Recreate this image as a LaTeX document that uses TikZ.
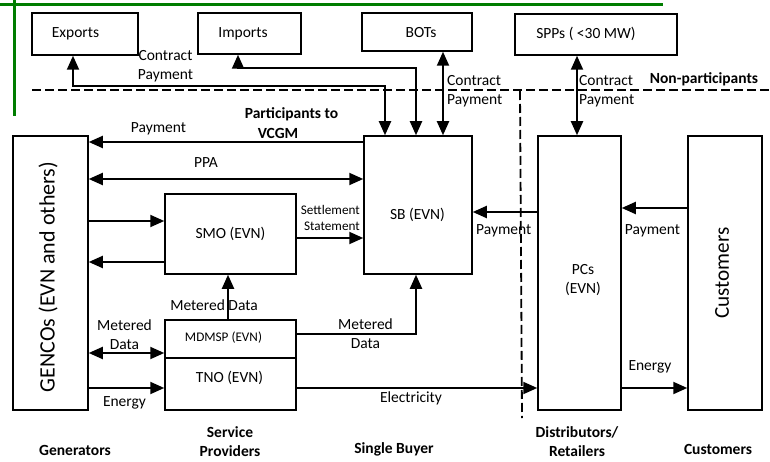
\documentclass[tikz,border=0pt]{standalone}
\usepackage{fontspec}
\setmainfont{Carlito}
\usetikzlibrary{arrows.meta,calc}
\definecolor{grn}{RGB}{0,125,0}
\begin{document}
\begin{tikzpicture}[x=1pt,y=-1pt,
  box/.style={draw,line width=1.5pt,inner sep=0pt},
  arr/.style={line width=2pt,-{Triangle[length=14pt,width=12pt]}},
  dbl/.style={line width=2pt,{Triangle[length=14pt,width=12pt]}-{Triangle[length=14pt,width=12pt]}},
  txt/.style={font=\fontsize{15.5}{19}\selectfont,inner sep=0pt,align=center},
  sml/.style={font=\fontsize{13.2}{16}\selectfont,inner sep=0pt},
  bld/.style={font=\fontsize{15.5}{19}\selectfont\bfseries,inner sep=0pt,align=center},
  big/.style={font=\fontsize{22}{26}\selectfont,inner sep=0pt,rotate=90},
  sep/.style={line width=1.8pt,dash pattern=on 9pt off 4pt},
  frame/.style={draw=grn,line width=3pt}
]
\useasboundingbox (0,0) rectangle (770,462);
% green frame pieces
\draw[frame] (0,5) -- (663,5);
\draw[frame] (14.5,0) -- (14.5,116);

% boxes
\node[box,minimum width=106pt,minimum height=42pt] (exports) at (85,34) {};
\node[box,minimum width=103pt,minimum height=41pt] (imports) at (249.5,33.5) {};
\node[box,minimum width=110pt,minimum height=38pt] (bots) at (417,32) {};
\node[box,minimum width=162pt,minimum height=41pt] (spps) at (596,34.5) {};
\node[box,minimum width=75pt,minimum height=274pt] (gencos) at (50.5,273) {};
\node[box,minimum width=131pt,minimum height=80pt] (smo) at (230.5,234) {};
\node[box,minimum width=108pt,minimum height=138pt] (sb) at (418,205) {};
\node[box,minimum width=83pt,minimum height=274pt] (pcs) at (579.5,273) {};
\node[box,minimum width=74pt,minimum height=274pt] (cust) at (725,273) {};
\node[box,minimum width=131pt,minimum height=38pt] (mdmsp) at (230.5,339) {};
\node[box,minimum width=131pt,minimum height=52pt] (tno) at (230.5,384) {};

% box texts
\node[txt] (exportsT) at (75.5,34) {Exports};
\node[txt] (importsT) at (243,34) {Imports};
\node[txt] (botsT) at (421,33) {BOTs};
\node[txt] (sppsT) at (586,34) {SPPs ( <30 MW)};
\node[big] (gencosT) at (48,277) {GENCOs (EVN and others)};
\node[txt] (smoT) at (230.5,234) {SMO (EVN)};
\node[txt] (sbT) at (417.5,215) {SB (EVN)};
\node[txt] (pcsT) at (583,280) {PCs\\(EVN)};
\node[big,font=\fontsize{21.2}{25}\selectfont] (custT) at (722,273) {Customers};
\node[sml] (mdmspT) at (223.5,338) {MDMSP (EVN)};
\node[txt] (tnoT) at (229.5,378) {TNO (EVN)};

% separators
\draw[sep] (32,90) -- (770,90);
\draw[sep] (520,91) -- (522,418);

% row / column coordinates
\coordinate (yPay) at (0,142);
\coordinate (yPPA) at (0,179);
\coordinate (yS1) at (0,221);
\coordinate (ySet) at (0,238);
\coordinate (yS2) at (0,262);
\coordinate (yPaySB) at (0,212);
\coordinate (yPayPC) at (0,208);
\coordinate (yMD) at (0,353);
\coordinate (yMDSB) at (0,334);
\coordinate (yEn) at (0,388);
\coordinate (xMD) at (228,0);
\coordinate (xMDSB) at (416,0);

% connectors top
\draw[dbl] ([xshift=-12pt]exports.south) -- ++(0,30) -| ([xshift=-33pt]sb.north);
\draw[dbl] ([xshift=-11.5pt]imports.south) -- ++(0,13) -| ([xshift=-2pt]sb.north);
\draw[dbl] ([xshift=26pt]bots.south) -- ([xshift=25pt]sb.north);
\draw[dbl] ([xshift=-19pt]spps.south) -- ([xshift=-2.5pt]pcs.north);

% connectors middle
\draw[arr] (sb.west |- yPay) -- (gencos.east |- yPay);
\draw[dbl] (gencos.east |- yPPA) -- (sb.west |- yPPA);
\draw[arr] (gencos.east |- yS1) -- (smo.west |- yS1);
\draw[arr] (smo.west |- yS2) -- (gencos.east |- yS2);
\draw[arr] (smo.east |- ySet) -- (sb.west |- ySet);
\draw[arr] (pcs.west |- yPaySB) -- (sb.east |- yPaySB);
\draw[arr] (cust.west |- yPayPC) -- (pcs.east |- yPayPC);
\draw[arr] (mdmsp.north -| xMD) -- (smo.south -| xMD);
\draw[dbl] (gencos.east |- yMD) -- (mdmsp.west |- yMD);
\draw[arr] (mdmsp.east |- yMDSB) -| (sb.south -| xMDSB);
\draw[arr] (gencos.east |- yEn) -- (tno.west |- yEn);
\draw[arr] (tno.east |- yEn) -- (pcs.west |- yEn);
\draw[arr] (pcs.east |- yEn) -- (cust.west |- yEn);

% labels
\node[txt] (lbl1) at (165.5,66.5) {Contract\\Payment};
\node[txt,anchor=west,align=left] (lbl2) at (447,91) {Contract\\Payment};
\node[txt,anchor=west,align=left] (lbl3) at (579,91) {Contract\\Payment};
\node[bld] (nonp) at (704,79) {Non-participants};
\node[bld] (part1) at (291.5,114) {Participants to};
\node[bld] (part2) at (278,133) {VCGM};
\node[txt] (lpay) at (158.5,129) {Payment};
\node[txt] (lppa) at (206,163) {PPA};
\node[sml,align=right,anchor=east] (lset) at (360,218) {Settlement\\Statement};
\node[txt,anchor=west] (lpay2) at (476,231) {Payment};
\node[txt] (lpay3) at (652.5,231) {Payment};
\node[txt] (lmd1) at (214,305) {Metered Data};
\node[txt] (lmd2) at (124.5,334.5) {Metered\\Data};
\node[txt] (len1) at (124.5,403) {Energy};
\node[txt] (lmd3) at (365.5,333.5) {Metered\\Data};
\node[txt] (lelec) at (411,398) {Electricity};
\node[txt] (len2) at (650,367) {Energy};

% bottom category labels
\node[bld] (cGen) at (75,450) {Generators};
\node[bld] (cSP) at (230,442) {Service\\Providers};
\node[bld] (cSB) at (394,449) {Single Buyer};
\node[bld] (cDR) at (577,442) {Distributors/\\Retailers};
\node[bld] (cCu) at (718,449) {Customers};
\end{tikzpicture}
\end{document}
